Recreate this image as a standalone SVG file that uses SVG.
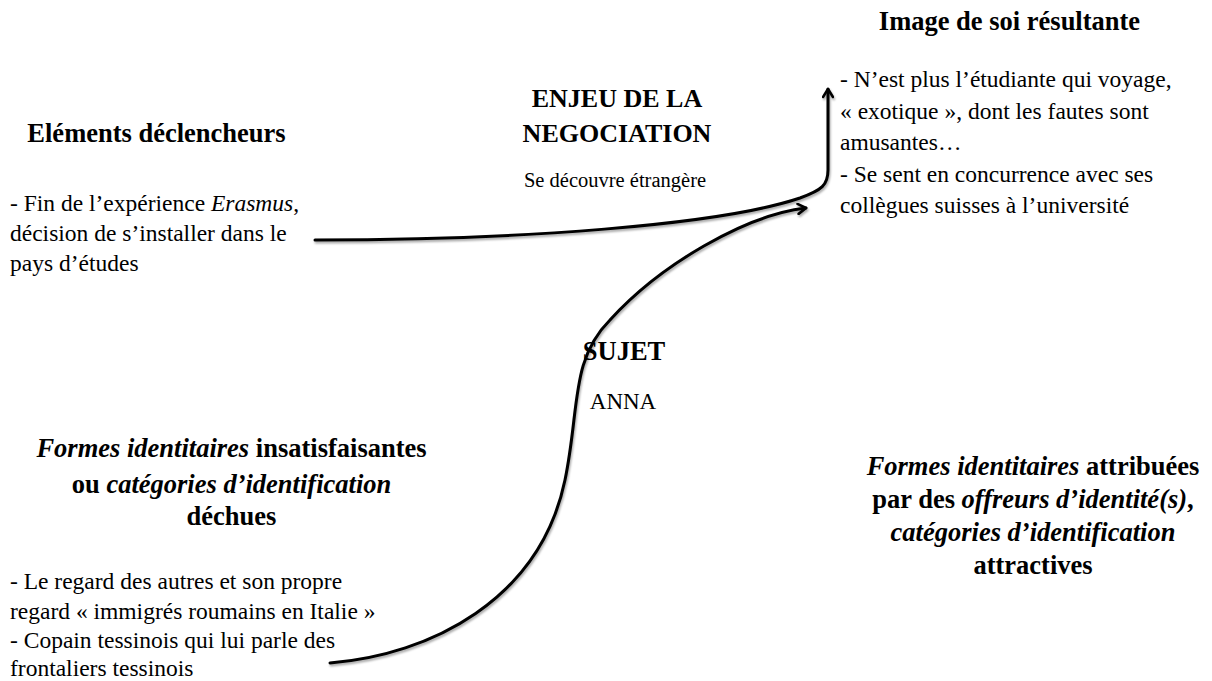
<svg xmlns="http://www.w3.org/2000/svg" width="1212" height="681" viewBox="0 0 1212 681">
<style>
text{font-family:"Liberation Serif","Times New Roman",serif;fill:#000}
.t{font-weight:bold;font-size:26.5px}
.b{font-size:23.5px}
.c{text-anchor:middle}
.i{font-style:italic}
.ln{fill:none;stroke:#000;stroke-width:3;stroke-linecap:round;filter:url(#sh)}
</style>
<defs>
<marker id="ah" viewBox="0 0 12 12" refX="10" refY="6" markerWidth="12" markerHeight="12" markerUnits="userSpaceOnUse" orient="auto">
<path d="M2,1 L10,6 L2,11" fill="none" stroke="#000" stroke-width="2.6" stroke-linecap="round" stroke-linejoin="round"/>
</marker>
<filter id="sh" x="-10%" y="-10%" width="120%" height="120%">
<feDropShadow dx="1" dy="2" stdDeviation="1.2" flood-color="#000" flood-opacity="0.35"/>
</filter>
</defs>
<rect width="1212" height="681" fill="#fff"/>
<g id="connectors">
<path class="ln" d="M315,240 C520,240 720,225 800,198 C822,190 828,185 828,170 L828,89" marker-end="url(#ah)"/>
<path class="ln" d="M330,663 C430,655 540,600 565,480 C580,408 570,360 610,320 C660,265 745,215 806,208" marker-end="url(#ah)"/>
<path class="ln" d="M616,330 L616,273" marker-end="url(#ah)"/>
</g>
<g id="elements-declencheurs">
<text class="t c" x="156.5" y="142">Eléments déclencheurs</text>
<text class="b" x="10" y="211">- Fin de l’expérience <tspan class="i">Erasmus</tspan>,</text>
<text class="b" x="10" y="241">décision de s’installer dans le</text>
<text class="b" x="10" y="271">pays d’études</text>
</g>
<g id="enjeu">
<text class="t c" x="617" y="107" style="font-size:26px">ENJEU DE LA</text>
<text class="t c" x="617" y="142" style="font-size:26px">NEGOCIATION</text>
<text class="c" x="615" y="187" style="font-size:20.5px">Se découvre étrangère</text>
</g>
<g id="image-de-soi">
<text class="t c" x="1009.5" y="30">Image de soi résultante</text>
<text class="b" x="840" y="87">- N’est plus l’étudiante qui voyage,</text>
<text class="b" x="840" y="118.5">« exotique », dont les fautes sont</text>
<text class="b" x="840" y="150">amusantes…</text>
<text class="b" x="840" y="181.5">- Se sent en concurrence avec ses</text>
<text class="b" x="840" y="213">collègues suisses à l’université</text>
</g>
<g id="sujet">
<text class="t c" x="624" y="360">SUJET</text>
<text class="c" x="623" y="409" style="font-size:23px">ANNA</text>
</g>
<g id="formes-insatisfaisantes">
<text class="t c" x="231.5" y="457"><tspan class="i">Formes identitaires</tspan> insatisfaisantes</text>
<text class="t c" x="231.5" y="493">ou <tspan class="i">catégories d’identification</tspan></text>
<text class="t c" x="231.5" y="525">déchues</text>
<text class="b" x="10" y="589">- Le regard des autres et son propre</text>
<text class="b" x="10" y="619">regard « immigrés roumains en Italie »</text>
<text class="b" x="10" y="648">- Copain tessinois qui lui parle des</text>
<text class="b" x="10" y="676">frontaliers tessinois</text>
</g>
<g id="formes-attribuees">
<text class="t c" x="1033" y="475"><tspan class="i">Formes identitaires</tspan> attribuées</text>
<text class="t c" x="1033" y="508">par des <tspan class="i">offreurs d’identité(s)</tspan>,</text>
<text class="t c" x="1033" y="541"><tspan class="i">catégories d’identification</tspan></text>
<text class="t c" x="1033" y="574">attractives</text>
</g>
</svg>
